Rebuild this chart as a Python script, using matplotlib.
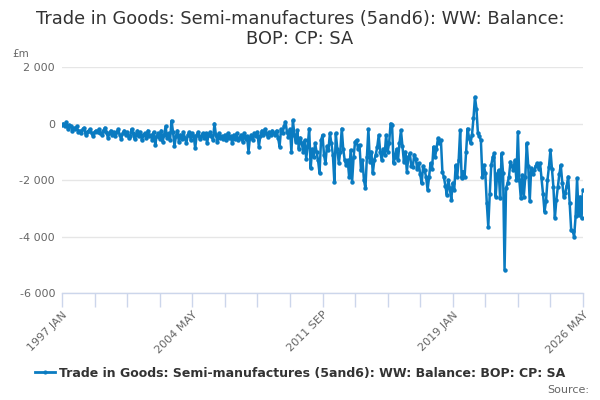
import matplotlib
matplotlib.use("Agg")
import matplotlib.pyplot as plt
from matplotlib.lines import Line2D

LINE_COLOR = "#0a7bc1"
TEXT_COLOR = "#333333"
LABEL_COLOR = "#666666"
GRID_COLOR = "#e6e6e6"
AXIS_COLOR = "#ccd6eb"

START_YEAR = 1997
MONTHS = ["JAN", "FEB", "MAR", "APR", "MAY", "JUN", "JUL", "AUG", "SEP", "OCT", "NOV", "DEC"]

# monthly balance, £m
y1997 = [-50, 0, -100, 50, -200, -50, -100, -250, -150, -200, -100, -300]
y1998 = [-250, -350, -200, -150, -400, -300, -250, -200, -350, -450, -300, -250]
y1999 = [-300, -200, -350, -400, -250, -150, -300, -500, -350, -250, -400, -300]
y2000 = [-450, -300, -200, -400, -550, -350, -250, -400, -300, -500, -450, -200]
y2001 = [-350, -550, -400, -250, -450, -300, -600, -400, -350, -500, -250, -450]
y2002 = [-400, -600, -300, -750, -450, -350, -550, -250, -650, -400, -100, -500]
y2003 = [-350, -600, 100, -300, -800, -450, -250, -650, -400, -550, -300, -500]
y2004 = [-700, -400, -300, -600, -350, -450, -880, -400, -300, -550, -450, -350]
y2005 = [-500, -350, -700, -400, -300, -450, -600, 0, -400, -650, -350, -500]
y2006 = [-450, -550, -400, -600, -350, -500, -450, -700, -400, -550, -350, -600]
y2007 = [-500, -400, -650, -350, -550, -450, -1000, -500, -400, -600, -350, -450]
y2008 = [-300, -820, -450, -250, -400, -200, -350, -470, -300, -400, -250, -350]
y2009 = [-400, -250, -500, -820, -200, -350, -100, 60, -300, -470, -200, -1000]
y2010 = [120, -400, -650, -240, -900, -500, -700, -1000, -600, -1240, -800, -180]
y2011 = [-1590, -900, -1200, -700, -1000, -1300, -1760, -600, -410, -1100, -1410, -800]
y2012 = [-940, -350, -700, -1100, -2060, -350, -900, -1400, -1000, -180, -900, -1300]
y2013 = [-1470, -1300, -1880, -940, -2060, -1200, -650, -590, -900, -760, -1650, -1300]
y2014 = [-2000, -2290, -1180, -210, -1350, -1000, -1760, -1290, -1100, -820, -410, -1000]
y2015 = [-1300, -900, -1100, -410, -1000, -700, 0, -50, -1410, -1180, -900, -1300]
y2016 = [-700, -240, -800, -1350, -1000, -1700, -1200, -1060, -1500, -1530, -1100, -1240]
y2017 = [-1600, -1400, -1800, -2120, -1500, -1650, -1900, -2350, -1900, -1400, -1600, -820]
y2018 = [-1200, -900, -530, -700, -590, -1700, -1900, -2200, -2530, -2000, -2300, -2700]
y2019 = [-2100, -2350, -1470, -1900, -1300, -240, -1940, -1700, -1880, -1000, -180, -500]
y2020 = [-700, -400, 180, 940, 530, -350, -450, -590, -1880, -1470, -1760, -2820]
y2021 = [-3650, -2500, -1470, -1200, -1060, -2590, -1800, -1650, -2650, -1060, -1760, -5180]
y2022 = [-2300, -2120, -1880, -1350, -1500, -1650, -1300, -2000, -290, -2000, -2650, -1820]
y2023 = [-2590, -1900, -700, -1500, -2760, -1590, -1800, -1650, -1500, -1410, -1600, -1410]
y2024 = [-1940, -2500, -3120, -2760, -2000, -1530, -940, -1600, -2240, -3350, -2700, -2240]
y2025 = [-1800, -1470, -2100, -2590, -2470, -2200, -1880, -2820, -3760, -3800, -4000, -3290]
y2026 = [-1940, -3240, -2590, -3350, -2350]

values = (y1997 + y1998 + y1999 + y2000 + y2001 + y2002 + y2003 + y2004 + y2005 + y2006
          + y2007 + y2008 + y2009 + y2010 + y2011 + y2012 + y2013 + y2014 + y2015 + y2016
          + y2017 + y2018 + y2019 + y2020 + y2021 + y2022 + y2023 + y2024 + y2025 + y2026)
months = list(range(len(values)))

y_ticks = [2000, 0, -2000, -4000, -6000]
x_tick_step = 22
x_label_step = 88

title_lines = ["Trade in Goods: Semi-manufactures (5and6): WW: Balance:", "BOP: CP: SA"]


def month_label(m):
    return f"{START_YEAR + m // 12} {MONTHS[m % 12]}"


fig = plt.figure(figsize=(6, 4), dpi=100)
ax = fig.add_axes([62 / 600, 1 - 293 / 400, 521 / 600, 226 / 400])

ax.plot(months, values, color=LINE_COLOR, linewidth=1.8, marker="o", markersize=3.2,
        markeredgewidth=0, zorder=3)

ax.set_xlim(0, len(values) - 1)
ax.set_ylim(-6000, 2000)

ax.set_yticks(y_ticks)
ax.set_yticklabels([f"{v:,}".replace(",", " ") for v in y_ticks])
ax.tick_params(axis="y", length=0, pad=5, labelsize=8, labelcolor=LABEL_COLOR)
ax.grid(axis="y", color=GRID_COLOR, linewidth=1)
ax.set_axisbelow(True)

ax.set_xticks(list(range(0, len(values), x_tick_step)))
ax.set_xticklabels([month_label(m) if m % x_label_step == 0 else "" for m in range(0, len(values), x_tick_step)],
                   rotation=45, ha="right", rotation_mode="anchor")
ax.tick_params(axis="x", length=10, width=1, color=AXIS_COLOR, labelsize=8, labelcolor=LABEL_COLOR, pad=2)

for side in ["top", "right", "left"]:
    ax.spines[side].set_visible(False)
ax.spines["bottom"].set_color(AXIS_COLOR)
ax.spines["bottom"].set_linewidth(1)

# title as two separate lines so the second line's box stays narrow
for i, line in enumerate(title_lines):
    fig.text(0.5, 1 - (24 + 20 * i) / 400, line, ha="center", va="baseline",
             fontsize=12.8, color=TEXT_COLOR)
fig.text(12 / 600, 1 - 57 / 400, "£m", ha="left", va="baseline", fontsize=7.5, color=LABEL_COLOR)

handle = Line2D([], [], color=LINE_COLOR, linewidth=2, marker="o", markersize=3, markeredgewidth=0)
fig.legend([handle], ["Trade in Goods: Semi-manufactures (5and6): WW: Balance: BOP: CP: SA"],
           loc="center", bbox_to_anchor=(0.5, 1 - 373 / 400), frameon=False, handlelength=1.6,
           handletextpad=0.3, prop={"weight": "bold", "size": 9}, labelcolor=TEXT_COLOR)
fig.text(589 / 600, 1 - 390 / 400, "Source:", ha="right", va="center", fontsize=8, color=LABEL_COLOR)

fig.savefig("out.png", dpi=100)
